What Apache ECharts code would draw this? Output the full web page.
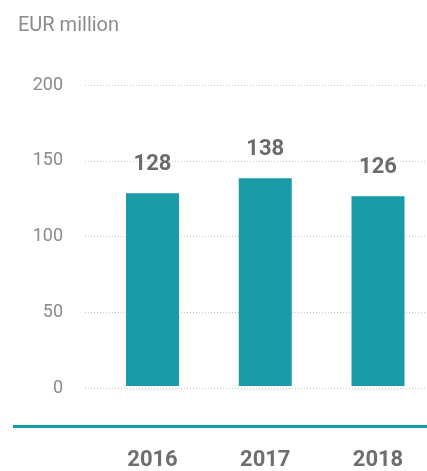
<!DOCTYPE html>
<html><head><meta charset="utf-8">
<script src="https://cdn.jsdelivr.net/npm/echarts@6/dist/echarts.min.js"></script>
<style>html,body{margin:0;padding:0;background:#fff}#c{width:427px;height:471px}</style>
</head><body><div id="c"></div>
<script>
const categories = ['2016', '2017', '2018'];
const values = [128, 138, 126];
const yTicks = [0, 50, 100, 150, 200];
const unitLabel = 'EUR million';

const chart = echarts.init(document.getElementById('c'), null, {renderer: 'canvas'});
const FONT = 'Roboto';
chart.setOption({
  animation: false,
  title: {
    text: unitLabel, left: 13, top: 11,
    textStyle: {fontFamily: FONT, fontSize: 20, fontWeight: 'normal', color: '#8a8a8a'}
  },
  grid: [
    {left: 85, right: 0, top: 85, bottom: 83, containLabel: false},
    {left: 152.5, right: 49, top: 85, bottom: 83, containLabel: false}
  ],
  xAxis: [
    {type: 'category', gridIndex: 0, data: categories, show: false},
    {type: 'category', gridIndex: 1, data: categories, boundaryGap: false,
     axisLine: {show: false}, axisTick: {show: false}, splitLine: {show: false},
     axisLabel: {margin: 63, fontFamily: FONT, fontSize: 22, fontWeight: 'bold', color: '#6e6e6e'}}
  ],
  yAxis: [
    {type: 'value', gridIndex: 0, min: yTicks[0], max: yTicks[yTicks.length - 1], interval: 50,
     axisLine: {show: false}, axisTick: {show: false},
     axisLabel: {margin: 22, fontFamily: FONT, fontSize: 18, color: '#8a8a8a'},
     splitLine: {show: true, lineStyle: {color: '#c4c4c4', type: [1, 2], width: 1}}},
    {type: 'value', gridIndex: 1, min: yTicks[0], max: yTicks[yTicks.length - 1], interval: 50,
     show: false, splitLine: {show: false}}
  ],
  series: [{
    type: 'bar', xAxisIndex: 1, yAxisIndex: 1, data: values, barWidth: 53, clip: false,
    itemStyle: {color: '#1a9ba8'},
    label: {show: true, position: 'top', distance: 18, fontFamily: FONT, fontSize: 22, fontWeight: 'bold', color: '#6b6b6b'}
  }],
  graphic: [{
    type: 'line', shape: {x1: 13, y1: 426.5, x2: 427, y2: 426.5},
    style: {stroke: '#1a9ba8', lineWidth: 3}, silent: true
  }]
});
</script></body></html>
